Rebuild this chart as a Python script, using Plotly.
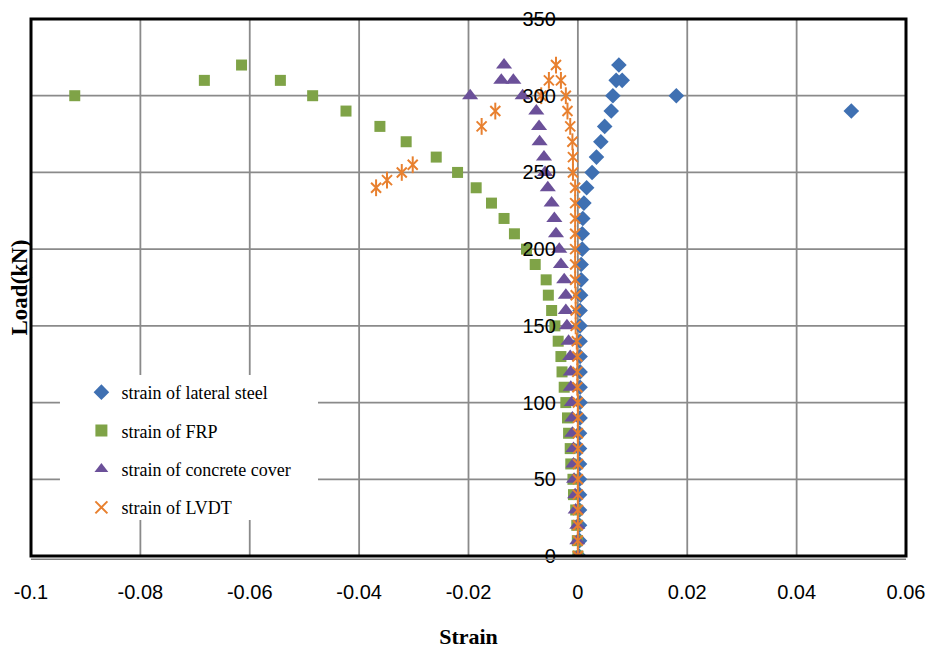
import plotly.graph_objects as go

# Load steps (kN) and measured strains for each gauge
steel_load = [0, 10, 20, 30, 40, 50, 60, 70, 80, 90, 100, 110, 120, 130, 140, 150, 160,
              170, 180, 190, 200, 210, 220, 230, 240, 250, 260, 270, 280, 290, 290,
              300, 300, 310, 310, 320]
steel_strain = [0.0002, 0.0003, 0.0003, 0.0003, 0.0003, 0.0003, 0.0003, 0.0003, 0.0003,
                0.0004, 0.0004, 0.0004, 0.0004, 0.0004, 0.0004, 0.0004, 0.0004, 0.0005,
                0.0006, 0.0006, 0.0008, 0.0008, 0.0009, 0.0011, 0.0016, 0.0026, 0.0034,
                0.0042, 0.0049, 0.0061, 0.0500, 0.0064, 0.0180, 0.0070, 0.0081, 0.0075]

frp_load = [0, 10, 20, 30, 40, 50, 60, 70, 80, 90, 100, 110, 120, 130, 140, 150, 160,
            170, 180, 190, 200, 210, 220, 230, 240, 250, 260, 270, 280, 290, 300, 310,
            320, 310, 300]
frp_strain = [0.0, -0.0001, -0.0002, -0.0004, -0.0008, -0.0009, -0.0013, -0.0014, -0.0017,
              -0.0019, -0.0022, -0.0025, -0.0029, -0.0031, -0.0036, -0.0042, -0.0048,
              -0.0054, -0.0058, -0.0078, -0.0094, -0.0116, -0.0135, -0.0158, -0.0186,
              -0.0220, -0.0259, -0.0314, -0.0362, -0.0424, -0.0485, -0.0544, -0.0615,
              -0.0683, -0.0920]

cover_load = [0, 10, 20, 30, 40, 50, 60, 70, 80, 90, 100, 110, 120, 130, 140, 150, 160,
              170, 180, 190, 200, 210, 220, 230, 240, 250, 260, 270, 280, 290, 300, 300,
              310, 310, 320]
cover_strain = [0.0, -0.0001, -0.0001, -0.0004, -0.0005, -0.0007, -0.0008, -0.0008,
                -0.0010, -0.0010, -0.0011, -0.0013, -0.0013, -0.0014, -0.0017, -0.0020,
                -0.0022, -0.0022, -0.0025, -0.0031, -0.0034, -0.0040, -0.0043, -0.0048,
                -0.0055, -0.0060, -0.0062, -0.0070, -0.0071, -0.0076, -0.0101, -0.0197,
                -0.0118, -0.0140, -0.0135]

lvdt_load = [0, 10, 20, 30, 40, 50, 60, 70, 80, 90, 100, 110, 120, 130, 140, 150, 160,
             170, 180, 190, 200, 210, 220, 230, 240, 250, 260, 270, 280, 290, 300,
             240, 245, 250, 255, 280, 290, 300, 310, 310, 320]
lvdt_strain = [0.0, 0.0, 0.0, 0.0, 0.0, 0.0, 0.0, 0.0, 0.0, 0.0, 0.0, -0.0001, -0.0001,
               -0.0001, -0.0002, -0.0004, -0.0004, -0.0004, -0.0005, -0.0005, -0.0005,
               -0.0005, -0.0005, -0.0005, -0.0005, -0.0009, -0.0009, -0.0010, -0.0014,
               -0.0019, -0.0022, -0.0369, -0.0349, -0.0322, -0.0302, -0.0176, -0.0151,
               -0.0067, -0.0053, -0.0031, -0.0040]

x_ticks = [-0.1, -0.08, -0.06, -0.04, -0.02, 0, 0.02, 0.04, 0.06]
x_tick_text = ["-0.1", "-0.08", "-0.06", "-0.04", "-0.02", "0", "0.02", "0.04", "0.06"]
y_ticks = [0, 50, 100, 150, 200, 250, 300, 350]

BLUE = "#3F70B2"
GREEN = "#7FA347"
PURPLE = "#6B5099"
ORANGE = "#E8802F"
GRID = "#8A8A8A"

fig = go.Figure()
fig.add_trace(go.Scatter(
    x=steel_strain, y=steel_load, mode="markers", name="strain of lateral steel",
    legendgroup="a", marker=dict(symbol="diamond", size=12, color=BLUE)))
fig.add_trace(go.Scatter(
    x=frp_strain, y=frp_load, mode="markers", name="strain of FRP",
    legendgroup="b", marker=dict(symbol="square", size=11, color=GREEN)))
fig.add_trace(go.Scatter(
    x=cover_strain, y=cover_load, mode="markers", name="strain of concrete cover",
    legendgroup="c", marker=dict(symbol="triangle-up", size=14, color=PURPLE)))
fig.add_trace(go.Scatter(
    x=lvdt_strain, y=lvdt_load, mode="markers", name="strain of LVDT",
    legendgroup="d",
    marker=dict(symbol="x-thin-open", size=10, color=ORANGE,
                line=dict(width=2, color=ORANGE))))
# vertical stroke completing the star marker
fig.add_trace(go.Scatter(
    x=lvdt_strain, y=lvdt_load, mode="markers", showlegend=False, hoverinfo="skip",
    legendgroup="d",
    marker=dict(symbol="line-ns-open", size=12, color=ORANGE,
                line=dict(width=2, color=ORANGE))))

X0, X1 = -0.1, 0.06
zero_pos = (0 - X0) / (X1 - X0)

tick_font = dict(family="Liberation Sans, Arial, sans-serif", size=20, color="black")
title_font = dict(family="Liberation Serif, Times New Roman, serif", size=22, color="black")

# gridlines drawn as shapes so the legend panel can sit on top of them
shapes = []
for xv in x_ticks:
    shapes.append(dict(type="line", xref="x", yref="paper", layer="below",
                       x0=xv, x1=xv, y0=0, y1=1, line=dict(color=GRID, width=1.8)))
for yv in y_ticks:
    shapes.append(dict(type="line", xref="paper", yref="y", layer="below",
                       x0=0, x1=1, y0=yv, y1=yv, line=dict(color=GRID, width=1.8)))
shapes += [
    # white panel behind the legend
    dict(type="rect", xref="paper", yref="paper", layer="below",
         x0=0.0331, x1=0.328, y0=0.067, y1=0.337,
         fillcolor="white", line=dict(width=0)),
    # frame around the plot area
    dict(type="rect", xref="paper", yref="paper", layer="above",
         x0=0, x1=1, y0=0, y1=1, line=dict(color="black", width=3)),
    dict(type="line", xref="paper", yref="paper", layer="above",
         x0=0, x1=1, y0=-0.006, y1=-0.006, line=dict(color="#7F7F7F", width=1.5)),
]

fig.update_layout(
    width=931, height=649,
    margin=dict(l=31, r=25, t=19, b=93, autoexpand=False),
    paper_bgcolor="white", plot_bgcolor="white",
    showlegend=True,
    legend=dict(
        x=0.0576, y=0.339, xanchor="left", yanchor="top",
        bgcolor="rgba(255,255,255,0)", borderwidth=0,
        font=dict(family="Liberation Serif, Times New Roman, serif", size=18, color="black"),
        tracegroupgap=12, itemsizing="constant",
    ),
    xaxis=dict(
        range=[X0, X1], tickvals=x_ticks, ticktext=x_tick_text,
        showgrid=False, zeroline=False, showline=False, automargin=False,
        ticks="outside", ticklen=0, ticklabelstandoff=18,
        ticklabeloverflow="allow",
        tickfont=tick_font,
        title=dict(text="<b>Strain</b>", font=title_font, standoff=32),
    ),
    yaxis=dict(
        range=[0, 350], tickvals=y_ticks,
        showgrid=False, zeroline=False, showline=False, automargin=False,
        anchor="free", position=zero_pos, side="left",
        ticks="outside", ticklen=0, ticklabelstandoff=18,
        ticklabeloverflow="allow",
        tickfont=tick_font,
    ),
    annotations=[dict(
        text="<b>Load(kN)</b>", textangle=-90,
        font=dict(family="Liberation Serif, Times New Roman, serif", size=23, color="black"),
        xref="paper", yref="paper", x=-0.0126, y=0.5,
        xanchor="center", yanchor="middle", showarrow=False,
    )],
    shapes=shapes,
)

fig.write_html("out.html")
